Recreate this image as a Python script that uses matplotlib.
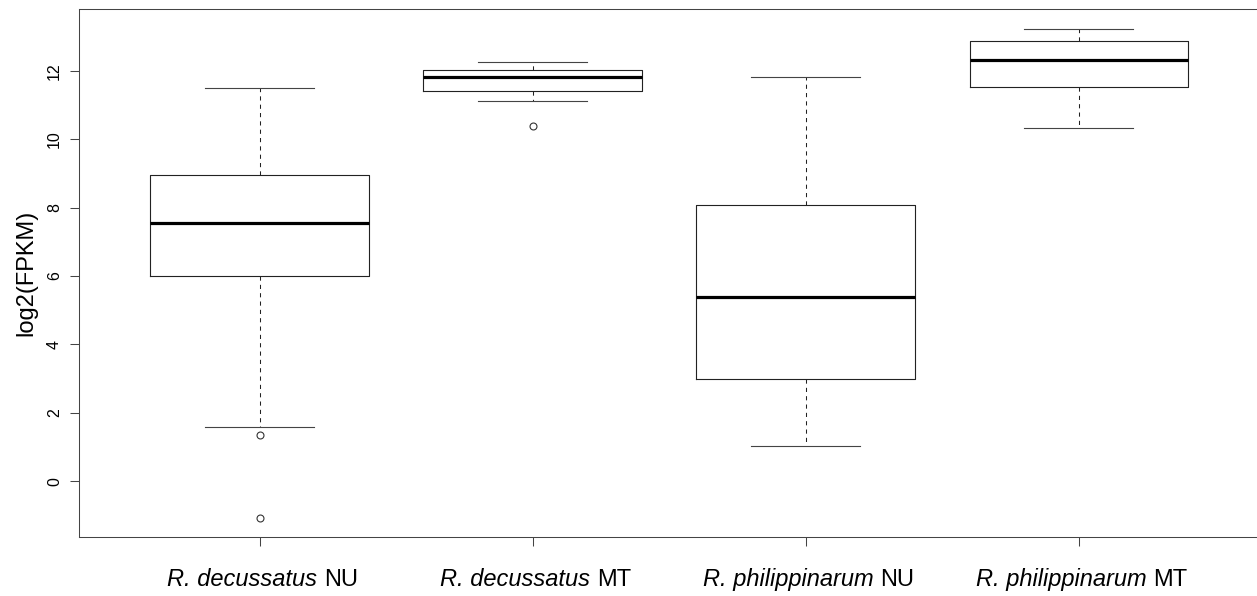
import matplotlib
matplotlib.use("Agg")
import matplotlib.pyplot as plt
from matplotlib.offsetbox import TextArea, HPacker, AnchoredOffsetbox

plt.rcParams['font.family'] = ['Liberation Sans', 'DejaVu Sans']

# expression summary per group (log2 FPKM)
species = ['R. decussatus', 'R. decussatus', 'R. philippinarum', 'R. philippinarum']
genome = ['NU', 'MT', 'NU', 'MT']
whislo = [1.58, 11.12, 1.03, 10.32]
q1 = [6.00, 11.41, 3.00, 11.52]
med = [7.56, 11.82, 5.39, 12.32]
q3 = [8.95, 12.02, 8.08, 12.88]
whishi = [11.50, 12.25, 11.81, 13.23]
fliers = [[1.34, -1.07], [10.38], [], []]

stats = []
for i in range(len(species)):
    stats.append(dict(whislo=whislo[i], q1=q1[i], med=med[i], q3=q3[i],
                      whishi=whishi[i], fliers=fliers[i]))

fig = plt.figure(figsize=(12.57, 5.96), dpi=100)
ax = fig.add_axes([79.3 / 1257, 58.7 / 596, (1259 - 79.3) / 1257, 528 / 596])

pos = [1, 2, 3, 4]
ax.bxp(stats, positions=pos, widths=0.8,
       boxprops=dict(color='#222222', linewidth=0.8),
       whiskerprops=dict(color='#222222', linewidth=0.75, linestyle=(0, (4, 4))),
       capprops=dict(color='#444444', linewidth=0.8),
       medianprops=dict(color='black', linewidth=2.3, solid_capstyle='butt'),
       flierprops=dict(marker='o', markersize=5, markerfacecolor='none',
                       markeredgecolor='#333333', markeredgewidth=0.8))

ax.set_xlim(0.34, 4.66)
ax.set_ylim(-1.64, 13.80)
ax.set_xticks(pos)
ax.set_xticklabels([''] * len(pos))
ax.set_yticks([0, 2, 4, 6, 8, 10, 12])
ax.set_yticklabels(['0', '2', '4', '6', '8', '10', '12'], rotation=90,
                   va='center', fontsize=11.5)
ax.tick_params(axis='y', length=6.5, width=0.75, color='#444444', pad=6)
ax.tick_params(axis='x', length=6.5, width=0.75, color='#444444')
ax.set_ylabel('log2(FPKM)', fontsize=17, labelpad=7)
for s in ax.spines.values():
    s.set_linewidth(0.75)
    s.set_color('#444444')

# group labels: italic species name followed by upright genome tag
trans = ax.get_xaxis_transform()
for x, sp, g in zip(pos, species, genome):
    parts = HPacker(children=[
        TextArea(sp, textprops=dict(fontsize=17, style='italic')),
        TextArea(g, textprops=dict(fontsize=17))],
        align='baseline', pad=0, sep=5)
    box = AnchoredOffsetbox(loc='upper center', child=parts, pad=0,
                            frameon=False, bbox_to_anchor=(x + 0.01, -0.058),
                            bbox_transform=trans, borderpad=0)
    ax.add_artist(box)

fig.savefig('out.png', dpi=100)
